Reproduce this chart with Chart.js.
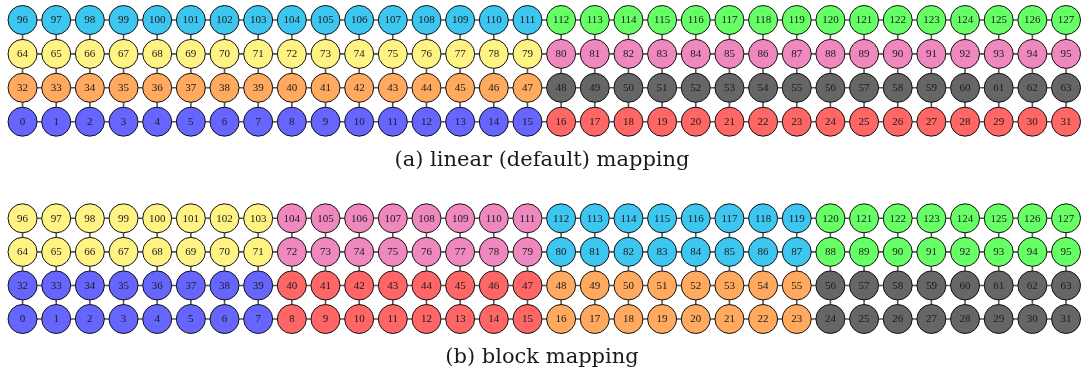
<!DOCTYPE html>
<html>
<head>
<meta charset="utf-8">
<script src="https://cdn.jsdelivr.net/npm/chart.js@4.4.1/dist/chart.umd.min.js"></script>
<style>
  html, body { margin: 0; padding: 0; background: #ffffff; }
  canvas { display: block; }
</style>
</head>
<body>
<canvas id="linear" width="1084" height="190"></canvas>
<canvas id="block" width="1084" height="184"></canvas>
<script>
// Grid of 4 rows x 32 columns; node id = row * 32 + column (row 0 at the bottom).
const gridColumns = [0,1,2,3,4,5,6,7,8,9,10,11,12,13,14,15,16,17,18,19,20,21,22,23,24,25,26,27,28,29,30,31];
const gridRows = [0, 1, 2, 3];

// Group owning each node, one string per row (bottom row first), one digit per column.
const linearMapping = [
  "00000000000000001111111111111111",
  "22222222222222223333333333333333",
  "44444444444444445555555555555555",
  "66666666666666667777777777777777"
];
const blockMapping = [
  "00000000111111112222222233333333",
  "00000000111111112222222233333333",
  "44444444555555556666666677777777",
  "44444444555555556666666677777777"
];

// Fill colour of each group.
const groupColors = [
  "#6666ff", // 0 blue
  "#ff6666", // 1 red
  "#ffaa5e", // 2 orange
  "#666666", // 3 gray
  "#fff384", // 4 yellow
  "#f088c0", // 5 pink
  "#3cc6f0", // 6 cyan
  "#66ff66"  // 7 green
];

const captions = ["(a) linear (default) mapping", "(b) block mapping"];

const nodeLabels = {
  id: "nodeLabels",
  afterDatasetsDraw(chart) {
    const ctx = chart.ctx;
    const meta = chart.getDatasetMeta(0);
    const ds = chart.data.datasets[0];
    ctx.save();
    ctx.font = "11px 'Liberation Serif', serif";
    ctx.fillStyle = "#1a1a1a";
    ctx.textAlign = "center";
    ctx.textBaseline = "middle";
    meta.data.forEach((el, i) => {
      ctx.fillText(String(ds.data[i].id), el.x, el.y + 0.5);
    });
    ctx.restore();
  }
};

function buildChart(canvasId, mapping, caption, yMin, yMax, pad) {
  const nodes = [];
  const fills = [];
  gridRows.forEach(r => {
    gridColumns.forEach(c => {
      nodes.push({ x: c, y: r, id: r * gridColumns.length + c });
      fills.push(groupColors[Number(mapping[r][c])]);
    });
  });

  const datasets = [{
    data: nodes,
    backgroundColor: fills,
    borderColor: "#111111",
    borderWidth: 1,
    pointRadius: 14.5,
    pointHoverRadius: 14.5,
    showLine: false,
    order: 0
  }];

  const link = { showLine: true, pointRadius: 0, borderColor: "#555555", borderWidth: 1.6, order: 1 };
  gridRows.forEach(r => {
    datasets.push(Object.assign({ data: gridColumns.map(c => ({ x: c, y: r })) }, link));
  });
  gridColumns.forEach(c => {
    datasets.push(Object.assign({ data: gridRows.map(r => ({ x: c, y: r })) }, link));
  });

  return new Chart(document.getElementById(canvasId), {
    type: "scatter",
    data: { datasets },
    options: {
      responsive: false,
      animation: false,
      devicePixelRatio: 1,
      layout: { padding: 0, autoPadding: false },
      scales: {
        x: { type: "linear", min: -0.67, max: 31.534, display: false },
        y: { type: "linear", min: yMin, max: yMax, display: false }
      },
      plugins: {
        legend: { display: false },
        tooltip: { enabled: false },
        title: {
          display: true,
          position: "bottom",
          text: caption,
          color: "#1a1a1a",
          font: { family: "'DejaVu Serif', serif", size: 21, weight: "normal", lineHeight: 1.2 },
          padding: pad
        }
      }
    },
    plugins: [nodeLabels]
  });
}

buildChart("linear", linearMapping, captions[0], -0.54, 3.59, { top: 8, bottom: 16.8 });
buildChart("block", blockMapping, captions[1], -0.536, 3.843, { top: 8, bottom: 3.8 });
</script>
</body>
</html>
